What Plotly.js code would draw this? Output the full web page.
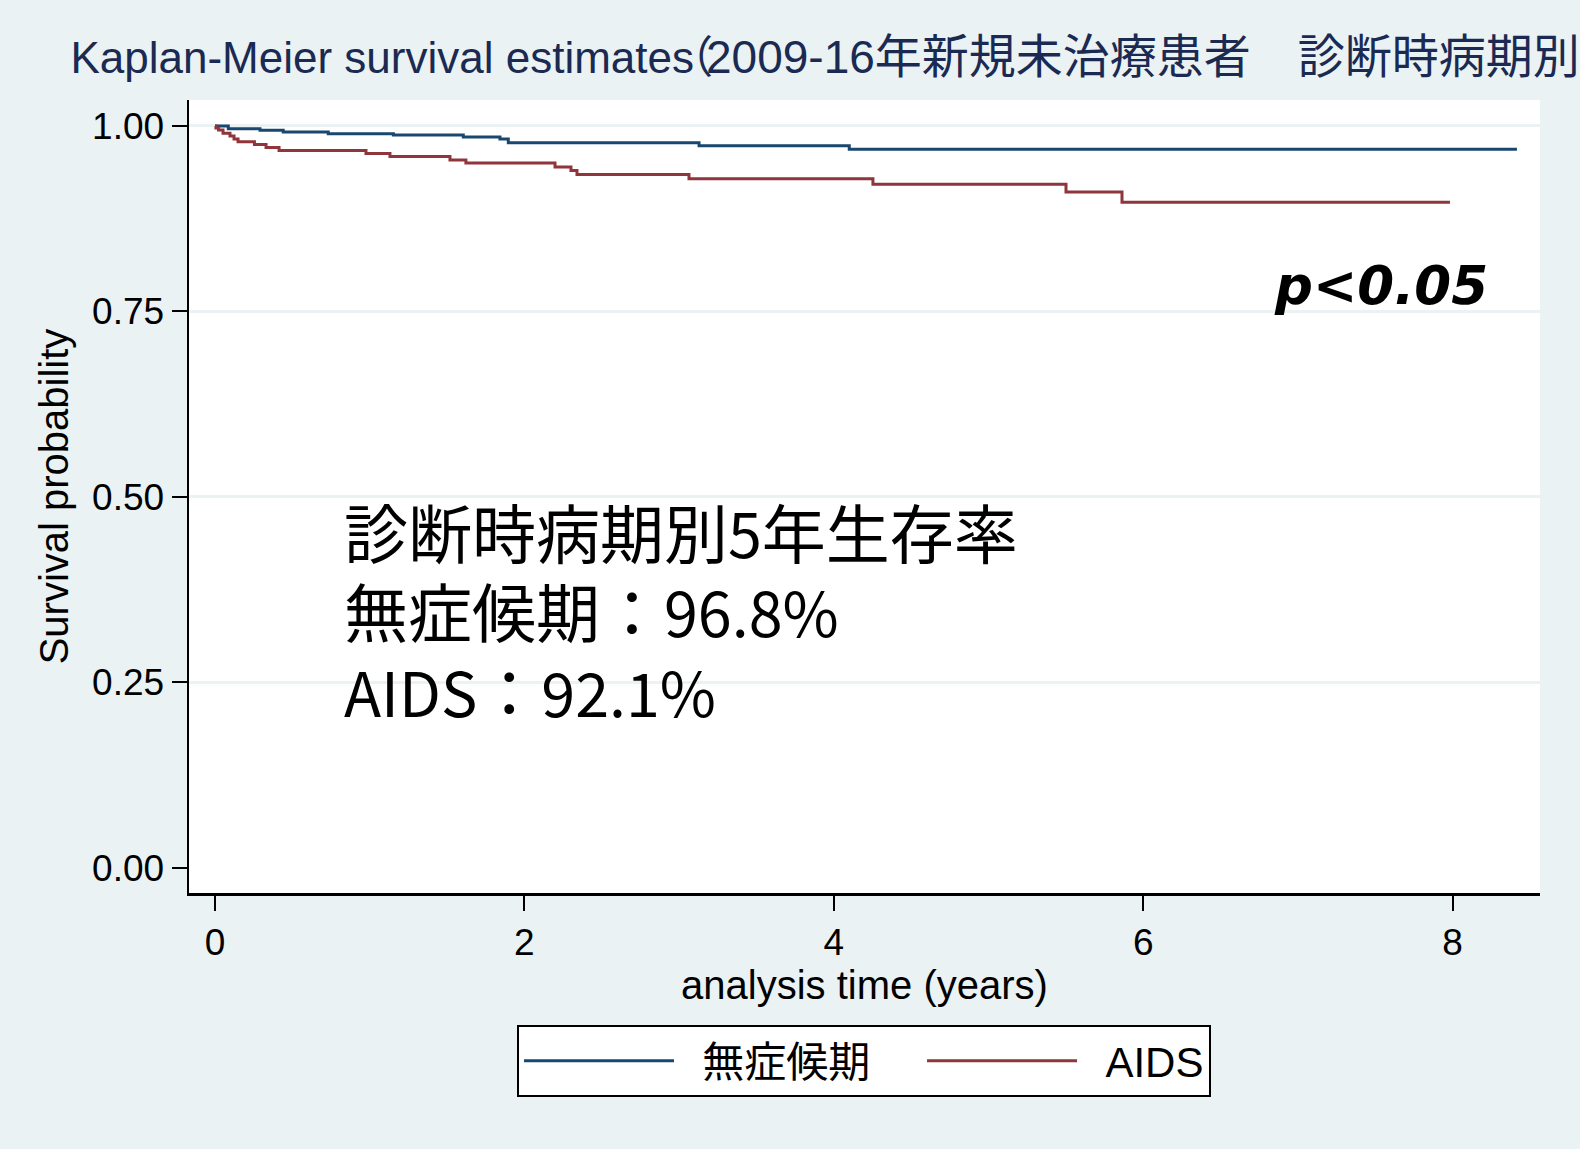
<!DOCTYPE html>
<html>
<head>
<meta charset="utf-8">
<script src="https://cdn.plot.ly/plotly-3.0.1.min.js"></script>
<style>
  html, body { margin: 0; padding: 0; background: #eaf2f3; }
  #chart { width: 1580px; height: 1149px; }
</style>
</head>
<body>
<div id="chart"></div>
<script>
// ---- data ----
const seriesNames = ["無症候期", "AIDS"];

const asymTime = [0, 0.086, 0.291, 0.441, 0.732, 1.153, 1.605, 1.842, 1.896, 3.129, 4.100, 8.416];
const asymSurv = [1.000, 0.9964, 0.9942, 0.9919, 0.9896, 0.9879, 0.9852, 0.9825, 0.9775, 0.9734, 0.9686, 0.9686];

const aidsTime = [0, 0.006, 0.023, 0.052, 0.097, 0.123, 0.149, 0.255, 0.330, 0.414, 0.976, 1.131, 1.519, 1.622, 2.198, 2.301, 2.340, 3.064, 4.253, 5.501, 5.863, 7.983];
const aidsSurv = [1.000, 0.9973, 0.9946, 0.9902, 0.9865, 0.9825, 0.9788, 0.9751, 0.9710, 0.9670, 0.9629, 0.9589, 0.9542, 0.9501, 0.9447, 0.9400, 0.9346, 0.9289, 0.9214, 0.9110, 0.8971, 0.8971];

const xTicks = [0, 2, 4, 6, 8];
const yTicks = [0, 0.25, 0.5, 0.75, 1];
const yTickText = ["0.00", "0.25", "0.50", "0.75", "1.00"];
const yGridTicks = [0.25, 0.5, 0.75, 1];

const titleLatin = "Kaplan-Meier survival estimates";
const titleParen = "（";
const titleYears = "2009-16";
const titleCJK = "年新規未治療患者　診断時病期別";
const xTitle = "analysis time (years)";
const yTitle = "Survival probability";
const noteLines = ["診断時病期別5年生存率", "無症候期：96.8%", "AIDS：92.1%"];
const pText = "p&lt;0.05";

// ---- styling ----
const navy = "#1a476f";
const maroon = "#90353b";
const bg = "#eaf2f3";
const latin = "Liberation Sans, Arial, Noto Sans CJK JP, sans-serif";

// tighter full-width bracket, larger CJK run, as in the reference rendering
const titleHTML =
  titleLatin.slice(0, -1) +
  '<span style="letter-spacing:-25px">' + titleLatin.slice(-1) + '</span>' +
  '<span style="letter-spacing:-7px">' + titleParen + '</span>' +
  '<span style="font-size:46px">' + titleYears + '</span>' +
  '<span style="font-size:47px">' + titleCJK + '</span>';

// wider CJK glyphs, as in the reference rendering
const cjkWrap = s => s.replace(/([\u3000-\u9fff\uff00-\uffef]+)/g, '<span style="font-size:64px">$1</span>');

const nb = n => "\u00a0".repeat(n);

const traces = [
  { x: asymTime, y: asymSurv, name: nb(2) + seriesNames[0] + nb(4), mode: "lines",
    line: { shape: "hv", color: navy, width: 3 }, hoverinfo: "skip" },
  { x: aidsTime, y: aidsSurv, name: nb(2) + seriesNames[1], mode: "lines",
    line: { shape: "hv", color: maroon, width: 3 }, hoverinfo: "skip" }
];

const xRange = [-0.168, 8.565];
const yRange = [-0.0342, 1.035];

const annotations = [{
  text: noteLines.map(cjkWrap).join("<br>"), xref: "paper", yref: "paper", x: 0.1129, y: 0.357,
  xanchor: "left", yanchor: "middle", align: "left", showarrow: false,
  font: { family: "Noto Sans CJK JP, sans-serif", size: 61, color: "#000" }
}, {
  text: "<b><i>" + pText + "</i></b>", xref: "paper", yref: "paper",
  x: 0.8016, y: 0.7655, xanchor: "left", yanchor: "middle", showarrow: false,
  font: { family: "DejaVu Sans, sans-serif", size: 53, color: "#000" }
}];

const layout = {
  width: 1580, height: 1149,
  paper_bgcolor: bg, plot_bgcolor: "#ffffff",
  margin: { l: 189, r: 40, t: 100, b: 256, pad: 0 },
  title: {
    text: titleHTML, xref: "container", yref: "container",
    x: 0.0446, xanchor: "left", y: 0.9495, yanchor: "middle",
    font: { family: latin, size: 44, color: "#1b2a52" }
  },
  showlegend: true,
  legend: {
    orientation: "h", x: 0.2428, y: -0.1665, xanchor: "left", yanchor: "top",
    bgcolor: "#ffffff", bordercolor: "#000000", borderwidth: 2,
    font: { family: latin, size: 42, color: "#000" },
    itemwidth: 150
  },
  xaxis: {
    range: xRange, tickvals: xTicks, ticktext: xTicks.map(String),
    showgrid: false, zeroline: false,
    showline: true, linecolor: "#000", linewidth: 2.5,
    ticks: "outside", ticklen: 15, tickwidth: 2, tickcolor: "#000",
    tickfont: { family: latin, size: 37, color: "#000" },
    title: { text: xTitle, standoff: 0, font: { family: latin, size: 40, color: "#000" } },
    automargin: false, fixedrange: true
  },
  yaxis: {
    range: yRange, tickvals: yTicks, ticktext: yTickText,
    showgrid: false, zeroline: false,
    showline: true, linecolor: "#000", linewidth: 2.5,
    ticks: "outside", ticklen: 15, tickwidth: 2, tickcolor: "#000",
    tickfont: { family: latin, size: 37, color: "#000" },
    title: { text: yTitle, standoff: 11, font: { family: latin, size: 40, color: "#000" } },
    automargin: false, fixedrange: true
  },
  yaxis2: {
    overlaying: "y", matches: "y", range: yRange, tickvals: yGridTicks,
    showticklabels: false, ticks: "", showline: false, zeroline: false,
    showgrid: true, gridcolor: bg, gridwidth: 3, fixedrange: true
  },
  annotations: annotations
};

// invisible carrier so yaxis2 (grid only) is drawn
traces.unshift({ x: [xRange[0]], y: [yRange[0]], yaxis: "y2", mode: "markers",
  marker: { opacity: 0 }, showlegend: false, hoverinfo: "skip" });

Plotly.newPlot("chart", traces, layout, { displayModeBar: false, staticPlot: true });
</script>
</body>
</html>
